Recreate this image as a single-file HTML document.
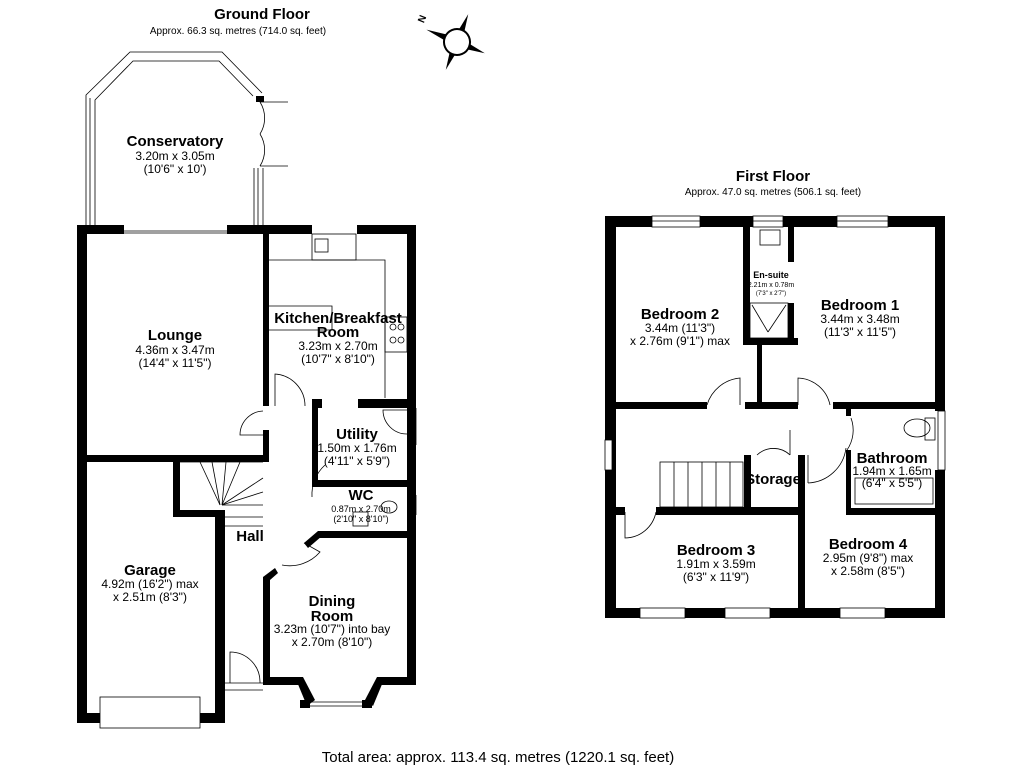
<!DOCTYPE html>
<html><head><meta charset="utf-8"><style>
body{margin:0;background:#fff;width:1024px;height:768px;overflow:hidden}
svg{display:block;font-family:"Liberation Sans",Arial,sans-serif}
.b{font-weight:bold;font-size:15px}
.s{font-size:12px}
</style></head><body>
<svg width="1024" height="768" viewBox="0 0 1024 768">
<g text-anchor="middle" fill="#000">
<text x="262" y="19" class="b" font-size="16">Ground Floor</text>
<text x="238" y="34" font-size="10">Approx. 66.3 sq. metres (714.0 sq. feet)</text>
<text x="773" y="181" class="b" font-size="16">First Floor</text>
<text x="773" y="195" font-size="10">Approx. 47.0 sq. metres (506.1 sq. feet)</text>
<text x="498" y="762" font-size="15">Total area: approx. 113.4 sq. metres (1220.1 sq. feet)</text>
</g>
<!-- compass -->
<g transform="translate(457,42) rotate(-68)">
<polygon points="0,-33 4,-6 0,0 -4,-6" fill="#000"/>
<polygon points="0,30 4,6 0,0 -4,6" fill="#000"/>
<polygon points="-30,0 -6,4 0,0 -6,-4" fill="#000"/>
<polygon points="30,0 6,4 0,0 6,-4" fill="#000"/>
<circle r="13" fill="#fff" stroke="#000" stroke-width="2"/>
</g>
<text x="420" y="26" font-size="10" font-weight="bold" transform="rotate(-68,420,22)">N</text>
<!-- Conservatory -->
<g fill="none" stroke="#000" stroke-width="0.8">
<polyline points="86,228 86,95 130,52 222,52 262,93"/>
<polyline points="95,228 95,100 133,61 219,61 253,96"/>
<line x1="90" y1="228" x2="90" y2="98"/>
<line x1="254" y1="168" x2="254" y2="225"/><line x1="263" y1="168" x2="263" y2="225"/><line x1="258" y1="168" x2="258" y2="225"/>
<path d="M260,102 A30,30 0 0 1 260,134 M260,166 A30,30 0 0 0 260,134"/>
<line x1="260" y1="102" x2="288" y2="102"/><line x1="260" y1="166" x2="288" y2="166"/>
<line x1="124" y1="231" x2="227" y2="231"/><line x1="124" y1="233" x2="227" y2="233"/>
</g>
<polygon points="256,96 264,96 264,102 256,102" fill="#000"/>
<!-- ground walls -->
<g fill="#000">
<rect x="77" y="225" width="10" height="498"/>
<rect x="77" y="225" width="47" height="9"/>
<rect x="227" y="225" width="85" height="9"/>
<rect x="357" y="225" width="59" height="9"/>
<rect x="407" y="225" width="9" height="460"/>
<rect x="263" y="234" width="6" height="172"/>
<rect x="263" y="430" width="6" height="32"/>
<rect x="87" y="455" width="182" height="7"/>
<rect x="173" y="462" width="7" height="55"/>
<rect x="173" y="510" width="49" height="7"/>
<rect x="215" y="510" width="10" height="213"/>
<rect x="77" y="713" width="23" height="10"/>
<rect x="200" y="713" width="25" height="10"/>
<rect x="312" y="399" width="10" height="9"/>
<rect x="358" y="399" width="58" height="9"/>
<rect x="312" y="399" width="6" height="88"/>
<rect x="312" y="480" width="104" height="7"/>
<rect x="318" y="531" width="98" height="7"/>
<polygon points="318,531 322,536 308,548 304,543"/>
<rect x="263" y="577" width="7" height="108"/>
<polygon points="263,577 275,568 278,573 270,580"/>
<rect x="263" y="677" width="36" height="8"/>
<polygon points="295,677 303,677 315,700 307,706"/>
<rect x="300" y="700" width="10" height="8"/>
<rect x="362" y="700" width="10" height="8"/>
<polygon points="385,677 377,677 365,700 373,706"/>
<rect x="381" y="677" width="35" height="8"/>
</g>
<g fill="none" stroke="#000" stroke-width="0.8">
<rect x="100" y="697" width="100" height="31"/>
<line x1="305" y1="702" x2="372" y2="702"/><line x1="305" y1="706" x2="372" y2="706"/>
<line x1="225" y1="683" x2="263" y2="683"/><line x1="225" y1="690" x2="263" y2="690"/>
<path d="M230,683 L230,652 A30,30 0 0 1 260,683"/>
<path d="M263,411 A24,24 0 0 0 240,435 L263,435"/>
<path d="M275,406 L275,374 A32,32 0 0 1 305,406"/>
<path d="M312,497 A40,40 0 0 1 325,465"/>
<path d="M407,410 L383,410 A24,24 0 0 0 407,434"/>
<path d="M282,565 A40,40 0 0 0 320,552 L304,543"/>
<line x1="410" y1="408" x2="410" y2="445"/><line x1="416" y1="408" x2="416" y2="445"/>
<line x1="410" y1="495" x2="410" y2="515"/><line x1="416" y1="495" x2="416" y2="515"/>
<rect x="312" y="234" width="44" height="26"/>
<rect x="315" y="239" width="13" height="13"/>
<polyline points="269,260 385,260 385,398"/>
<rect x="385" y="317" width="22" height="35"/>
<circle cx="393" cy="327" r="3"/><circle cx="401" cy="327" r="3"/><circle cx="393" cy="340" r="3"/><circle cx="401" cy="340" r="3"/>
<polyline points="269,306 332,306 332,330 269,330"/>
<line x1="180" y1="462" x2="263" y2="462"/>
<line x1="222" y1="517" x2="263" y2="517"/><line x1="222" y1="526" x2="263" y2="526"/>
<line x1="222" y1="505" x2="263" y2="505"/>
<line x1="200" y1="462" x2="220" y2="505"/><line x1="212" y1="462" x2="220" y2="505"/><line x1="226" y1="462" x2="222" y2="505"/><line x1="240" y1="462" x2="222" y2="505"/>
<line x1="222" y1="505" x2="263" y2="478"/><line x1="222" y1="505" x2="263" y2="492"/>
<ellipse cx="389" cy="507" rx="8" ry="6"/>
<rect x="353" y="512" width="15" height="14"/>
</g>
<g text-anchor="middle">
<text x="175" y="146" class="b">Conservatory</text>
<text x="175" y="160" class="s">3.20m x 3.05m</text>
<text x="175" y="173" class="s">(10'6" x 10')</text>
<text x="175" y="340" class="b">Lounge</text>
<text x="175" y="354" class="s">4.36m x 3.47m</text>
<text x="175" y="367" class="s">(14'4" x 11'5")</text>
<text x="338" y="323" class="b" font-size="14">Kitchen/Breakfast</text>
<text x="338" y="337" class="b" font-size="14">Room</text>
<text x="338" y="350" class="s">3.23m x 2.70m</text>
<text x="338" y="363" class="s">(10'7" x 8'10")</text>
<text x="357" y="439" class="b">Utility</text>
<text x="357" y="452" class="s">1.50m x 1.76m</text>
<text x="357" y="465" class="s">(4'11" x 5'9")</text>
<text x="361" y="500" class="b" font-size="13">WC</text>
<text x="361" y="512" font-size="9">0.87m x 2.70m</text>
<text x="361" y="522" font-size="9">(2'10" x 8'10")</text>
<text x="250" y="541" class="b">Hall</text>
<text x="150" y="575" class="b">Garage</text>
<text x="150" y="588" class="s">4.92m (16'2") max</text>
<text x="150" y="601" class="s">x 2.51m (8'3")</text>
<text x="332" y="606" class="b">Dining</text>
<text x="332" y="621" class="b">Room</text>
<text x="332" y="633" class="s">3.23m (10'7") into bay</text>
<text x="332" y="646" class="s">x 2.70m (8'10")</text>
</g>
<!-- First floor walls -->
<g fill="#000">
<rect x="605" y="216" width="11" height="402"/>
<rect x="605" y="216" width="47" height="11"/>
<rect x="700" y="216" width="53" height="11"/>
<rect x="783" y="216" width="54" height="11"/>
<rect x="888" y="216" width="57" height="11"/>
<rect x="935" y="216" width="10" height="195"/>
<rect x="935" y="470" width="10" height="148"/>
<rect x="605" y="608" width="35" height="10"/>
<rect x="685" y="608" width="40" height="10"/>
<rect x="770" y="608" width="70" height="10"/>
<rect x="885" y="608" width="60" height="10"/>
<rect x="743" y="227" width="7" height="118"/>
<rect x="743" y="338" width="55" height="7"/>
<rect x="788" y="227" width="6" height="35"/>
<rect x="788" y="303" width="6" height="42"/>
<rect x="757" y="345" width="5" height="60"/>
<rect x="616" y="402" width="91" height="7"/>
<rect x="745" y="402" width="53" height="7"/>
<rect x="833" y="402" width="102" height="7"/>
<rect x="846" y="408" width="5" height="8"/>
<rect x="846" y="450" width="5" height="65"/>
<rect x="846" y="508" width="89" height="7"/>
<rect x="744" y="455" width="7" height="53"/>
<rect x="798" y="455" width="7" height="155"/>
<rect x="656" y="507" width="149" height="8"/>
<rect x="605" y="507" width="20" height="8"/>
<rect x="605" y="440" width="7" height="30" fill="#fff"/>
</g>
<g fill="none" stroke="#000" stroke-width="0.8">
<rect x="652" y="216" width="48" height="11"/><line x1="652" y1="221" x2="700" y2="221"/>
<rect x="753" y="216" width="30" height="11"/><line x1="753" y1="221" x2="783" y2="221"/>
<rect x="837" y="216" width="51" height="11"/><line x1="837" y1="221" x2="888" y2="221"/>
<rect x="640" y="608" width="45" height="10"/><rect x="725" y="608" width="45" height="10"/><rect x="840" y="608" width="45" height="10"/>
<rect x="605" y="440" width="7" height="30"/>
<rect x="938" y="411" width="7" height="59"/>
<rect x="760" y="230" width="20" height="15"/>
<rect x="750" y="303" width="38" height="35"/>
<line x1="752" y1="305" x2="768" y2="332"/><line x1="786" y1="305" x2="768" y2="332"/>
<path d="M707,405 A38,38 0 0 1 740,378 L740,405"/>
<path d="M798,405 L798,378 A34,34 0 0 1 830,405"/>
<path d="M851,418 A35,35 0 0 1 847,450"/>
<path d="M757,455 A24,24 0 0 1 790,455 L790,455"/><line x1="790" y1="430" x2="790" y2="455"/>
<path d="M808,483 A40,40 0 0 0 846,448"/><line x1="808" y1="455" x2="808" y2="483"/>
<path d="M625,512 L625,538 A32,32 0 0 0 656,512"/>
<rect x="660" y="462" width="83" height="45"/>
<line x1="674" y1="462" x2="674" y2="507"/><line x1="688" y1="462" x2="688" y2="507"/><line x1="702" y1="462" x2="702" y2="507"/><line x1="716" y1="462" x2="716" y2="507"/><line x1="730" y1="462" x2="730" y2="507"/>
<ellipse cx="917" cy="428" rx="13" ry="9"/><rect x="925" y="418" width="10" height="22"/>
<rect x="855" y="478" width="78" height="26"/>
</g>
<g text-anchor="middle">
<text x="680" y="319" class="b">Bedroom 2</text>
<text x="680" y="332" class="s">3.44m (11'3")</text>
<text x="680" y="345" class="s">x 2.76m (9'1") max</text>
<text x="771" y="278" font-size="9" font-weight="bold">En-suite</text>
<text x="771" y="287" font-size="7">2.21m x 0.78m</text>
<text x="771" y="295" font-size="6">(7'3" x 2'7")</text>
<text x="860" y="310" class="b">Bedroom 1</text>
<text x="860" y="323" class="s">3.44m x 3.48m</text>
<text x="860" y="336" class="s">(11'3" x 11'5")</text>
<text x="892" y="463" class="b" font-size="13">Bathroom</text>
<text x="892" y="475" class="s">1.94m x 1.65m</text>
<text x="892" y="487" class="s">(6'4" x 5'5")</text>
<text x="773" y="484" class="b" font-size="12">Storage</text>
<text x="716" y="555" class="b">Bedroom 3</text>
<text x="716" y="568" class="s">1.91m x 3.59m</text>
<text x="716" y="581" class="s">(6'3" x 11'9")</text>
<text x="868" y="549" class="b">Bedroom 4</text>
<text x="868" y="562" class="s">2.95m (9'8") max</text>
<text x="868" y="575" class="s">x 2.58m (8'5")</text>
</g>
</svg>
</body></html>
